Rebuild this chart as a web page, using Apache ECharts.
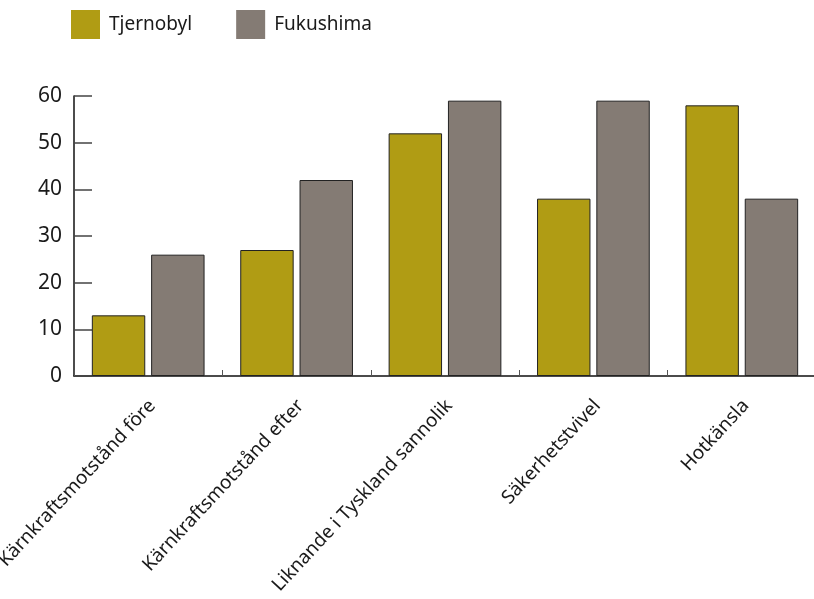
<!DOCTYPE html>
<html>
<head>
<meta charset="utf-8">
<script src="https://cdn.jsdelivr.net/npm/echarts@6/dist/echarts.min.js"></script>
<style>
html,body{margin:0;padding:0;background:#fff;}
#chart{width:814px;height:599px;}
</style>
</head>
<body>
<div id="chart"></div>
<script>
const categories = ['Kärnkraftsmotstånd före', 'Kärnkraftsmotstånd efter', 'Liknande i Tyskland sannolik', 'Säkerhetstvivel', 'Hotkänsla'];
const tjernobyl = [13, 27, 52, 38, 58];
const fukushima = [26, 42, 59, 59, 38];
const seriesNames = ['Tjernobyl', 'Fukushima'];

const FONT = 'Noto Sans';
const chart = echarts.init(document.getElementById('chart'), null, {renderer: 'canvas'});
chart.setOption({
  animation: false,
  backgroundColor: '#fff',
  textStyle: {fontFamily: FONT},
  legend: {
    left: 66, top: 5,
    itemWidth: 29, itemHeight: 29, itemGap: 44,
    icon: 'rect',
    itemStyle: {borderWidth: 0},
    textStyle: {fontSize: 19, color: '#1a1a1a', fontFamily: FONT, padding: [0, 0, 0, 4]},
    data: seriesNames
  },
  grid: {left: 74, right: -2, top: 96, bottom: 223, containLabel: false, outerBoundsMode: 'none'},
  xAxis: {
    type: 'category',
    data: categories,
    axisLine: {lineStyle: {color: '#111', width: 1.5}},
    axisTick: {show: true, inside: true, length: 6, lineStyle: {color: '#555'}},
    axisLabel: {rotate: 47, fontSize: 19, color: '#1a1a1a', margin: 31, fontFamily: FONT, interval: 0,
                padding: [0, -6, 0, 0]}
  },
  yAxis: {
    type: 'value',
    min: 0, max: 60, interval: 10,
    axisLine: {show: true, lineStyle: {color: '#111', width: 1.5}},
    axisTick: {show: true, inside: true, length: 18, lineStyle: {color: '#444', width: 1.5}},
    splitLine: {show: false},
    axisLabel: {fontSize: 21, color: '#1a1a1a', margin: 12, fontFamily: FONT}
  },
  series: [
    {name: seriesNames[0], type: 'bar', data: tjernobyl, barWidth: '36%', barGap: '11%',
     itemStyle: {color: '#B09C14', borderColor: '#222', borderWidth: 1}},
    {name: seriesNames[1], type: 'bar', data: fukushima, barWidth: '36%', barGap: '11%',
     itemStyle: {color: '#847B74', borderColor: '#222', borderWidth: 1}}
  ]
});
</script>
</body>
</html>
